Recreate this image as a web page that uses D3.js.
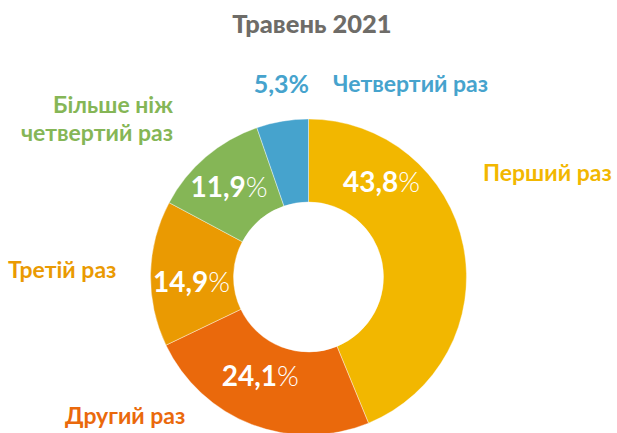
<!DOCTYPE html>
<html>
<head>
<meta charset="utf-8">
<script src="https://cdn.jsdelivr.net/npm/d3@7"></script>
<style>
  html, body { margin: 0; padding: 0; background: #fff; }
  svg { display: block; font-family: Lato, "Open Sans", sans-serif; }
</style>
</head>
<body>
<div id="chart"></div>
<script>
'use strict';

// data
const title = 'Травень 2021';
const categories = ['Перший раз', 'Другий раз', 'Третій раз', 'Більше ніж четвертий раз', 'Четвертий раз'];
const shares = [43.8, 24.1, 14.9, 11.9, 5.3];
const colours = ['#f2b700', '#ea690c', '#ea9a02', '#85b656', '#46a3cd'];

const width = 617, height = 433;
const cx = 308.5, cy = 277;
const outerR = 158, innerR = 75;

// hand placed labels, like in the original
const outerLabels = [
    { lines: ['Перший раз'], x: 483, y: 181, anchor: 'start' },
    { lines: ['Другий раз'], x: 65, y: 424, anchor: 'start' },
    { lines: ['Третій раз'], x: 8, y: 278, anchor: 'start' },
    { lines: ['Більше ніж', 'четвертий раз'], x: 173, y: 113, anchor: 'end' },
    { lines: ['Четвертий раз'], x: 333, y: 92, anchor: 'start' }
];
// angle (deg) and radius for the value labels inside the ring
const innerLabels = [
    { angle: 37.5, r: 120 },
    { angle: 206, r: 110 },
    { angle: 267.5, r: 117 },
    { angle: 318.5, r: 120 },
    null
];

const fmt = v => v.toFixed(1).replace('.', ',');

const svg = d3.select('#chart').append('svg')
    .attr('width', width)
    .attr('height', height);

svg.append('text')
    .attr('x', 312)
    .attr('y', 33)
    .attr('text-anchor', 'middle')
    .style('font-size', '25.5px')
    .style('font-weight', '900')
    .style('fill', '#6e6c68')
    .text(title);

const pie = d3.pie().sort(null).value(d => d);
const arc = d3.arc().innerRadius(innerR).outerRadius(outerR);
const arcs = pie(shares);

const g = svg.append('g')
    .attr('transform', `translate(${cx}, ${cy})`);

g.selectAll('path')
    .data(arcs)
    .join('path')
    .attr('d', arc)
    .attr('fill', (d, i) => colours[i])
    .attr('stroke', '#fff')
    .attr('stroke-width', 0.4);

// values inside ring
arcs.forEach((d, i) => {
    let pos = innerLabels[i];
    if (!pos) return;
    let a = pos.angle * Math.PI / 180;
    let t = g.append('text')
        .attr('x', Math.sin(a) * pos.r)
        .attr('y', -Math.cos(a) * pos.r)
        .attr('dy', '0.36em')
        .attr('text-anchor', 'middle')
        .style('font-size', '28px')
        .style('fill', '#fff');
    t.append('tspan').style('font-weight', '700').text(fmt(shares[i]));
    t.append('tspan').style('font-weight', '300').text('%');
});

// outer category labels
outerLabels.forEach((lab, i) => {
    let t = svg.append('text')
        .attr('x', lab.x)
        .attr('y', lab.y)
        .attr('text-anchor', lab.anchor)
        .style('font-size', '23px')
        .style('font-weight', '700')
        .style('fill', colours[i]);
    lab.lines.forEach((line, k) => {
        t.append('tspan')
            .attr('x', lab.x)
            .attr('dy', k === 0 ? 0 : 28)
            .text(line);
    });
});

// the small slice gets its value outside
svg.append('text')
    .attr('x', 309)
    .attr('y', 93)
    .attr('text-anchor', 'end')
    .style('font-size', '25px')
    .style('font-weight', '700')
    .style('fill', colours[4])
    .text(fmt(shares[4]) + '%');
</script>
</body>
</html>
